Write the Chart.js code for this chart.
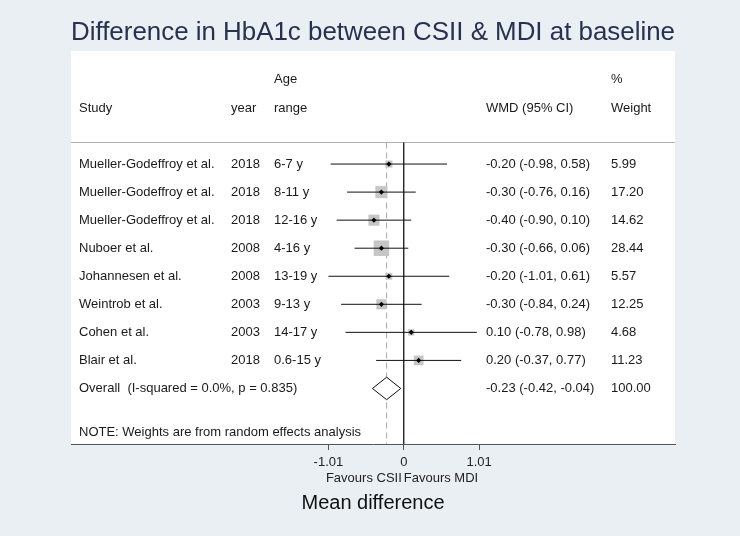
<!DOCTYPE html>
<html>
<head>
<meta charset="utf-8">
<title>Difference in HbA1c between CSII & MDI at baseline</title>
<script src="https://cdn.jsdelivr.net/npm/chart.js@4/dist/chart.umd.min.js"></script>
<style>
  html, body { margin: 0; padding: 0; background: #eaeff3; }
  canvas { display: block; }
</style>
</head>
<body>
<canvas id="forest" width="740" height="536"></canvas>
<script>
// study rows
const studies = ['Mueller-Godeffroy et al.', 'Mueller-Godeffroy et al.', 'Mueller-Godeffroy et al.',
  'Nuboer et al.', 'Johannesen et al.', 'Weintrob et al.', 'Cohen et al.', 'Blair et al.'];
const years = ['2018', '2018', '2018', '2008', '2008', '2003', '2003', '2018'];
const ageRanges = ['6-7 y', '8-11 y', '12-16 y', '4-16 y', '13-19 y', '9-13 y', '14-17 y', '0.6-15 y'];
const wmd = [-0.20, -0.30, -0.40, -0.30, -0.20, -0.30, 0.10, 0.20];
const ciLow = [-0.98, -0.76, -0.90, -0.66, -1.01, -0.84, -0.78, -0.37];
const ciHigh = [0.58, 0.16, 0.10, 0.06, 0.61, 0.24, 0.98, 0.77];
const weights = [5.99, 17.20, 14.62, 28.44, 5.57, 12.25, 4.68, 11.23];

// pooled estimate
const overallLabel = 'Overall  (I-squared = 0.0%, p = 0.835)';
const overallWmd = -0.23;
const overallLow = -0.42;
const overallHigh = -0.04;
const overallWeight = 100.00;

const tickValues = [-1.01, 0, 1.01];
const noteText = 'NOTE: Weights are from random effects analysis';

const textFont = '13px "Liberation Sans", Arial, Helvetica, sans-serif';
const overallRow = studies.length;
const headerLineRow = -0.77;
const bottomRow = 9.98;

const datasets = [];

// confidence intervals
studies.forEach((s, i) => {
  datasets.push({
    type: 'line',
    data: [{ x: ciLow[i], y: i }, { x: ciHigh[i], y: i }],
    borderColor: '#111',
    borderWidth: 1,
    pointRadius: 0,
    order: 3
  });
});

// weight boxes
datasets.push({
  type: 'scatter',
  data: wmd.map((v, i) => ({ x: v, y: i })),
  pointStyle: 'rect',
  pointRadius: weights.map(w => 2.9 * Math.sqrt(w) / Math.SQRT2),
  backgroundColor: '#c6c6c6',
  borderWidth: 0,
  order: 4
});

// point estimates
datasets.push({
  type: 'scatter',
  data: wmd.map((v, i) => ({ x: v, y: i })),
  pointStyle: 'rectRot',
  pointRadius: 2.6,
  backgroundColor: '#000',
  borderWidth: 0,
  order: 1
});

// overall diamond
datasets.push({
  type: 'line',
  data: [
    { x: overallLow, y: overallRow },
    { x: overallWmd, y: overallRow - 0.4 },
    { x: overallHigh, y: overallRow },
    { x: overallWmd, y: overallRow + 0.4 },
    { x: overallLow, y: overallRow }
  ],
  borderColor: '#111',
  backgroundColor: '#fff',
  fill: 'shape',
  borderWidth: 1,
  pointRadius: 0,
  tension: 0,
  order: 2
});

// line of no effect
datasets.push({
  type: 'line',
  data: [{ x: 0, y: headerLineRow }, { x: 0, y: bottomRow }],
  borderColor: '#000',
  borderWidth: 1.2,
  pointRadius: 0,
  order: 5
});

// overall effect reference line
datasets.push({
  type: 'line',
  data: [{ x: overallWmd, y: headerLineRow }, { x: overallWmd, y: bottomRow }],
  borderColor: '#a8a8a8',
  borderWidth: 1,
  borderDash: [6, 4],
  pointRadius: 0,
  order: 6
});

const fmt = v => v.toFixed(2);

const forestTable = {
  id: 'forestTable',
  beforeDraw(chart) {
    const { ctx, chartArea } = chart;
    ctx.save();
    ctx.fillStyle = '#fff';
    ctx.fillRect(chartArea.left, chartArea.top, chartArea.right - chartArea.left, chartArea.bottom - chartArea.top);
    // header rule
    const yS = chart.scales.y;
    const hy = Math.round(yS.getPixelForValue(headerLineRow)) + 0.5;
    ctx.strokeStyle = '#b0b0b0';
    ctx.lineWidth = 1;
    ctx.beginPath();
    ctx.moveTo(chartArea.left, hy);
    ctx.lineTo(chartArea.right, hy);
    ctx.stroke();
    ctx.restore();
  },
  afterDraw(chart) {
    const { ctx } = chart;
    const yS = chart.scales.y;
    const xS = chart.scales.x;
    const col = { study: 79, year: 231, age: 274, wmd: 486, weight: 611 };
    ctx.save();
    ctx.font = textFont;
    ctx.fillStyle = '#1a1a1a';
    ctx.textBaseline = 'middle';
    ctx.textAlign = 'left';
    const put = (t, x, row) => ctx.fillText(t, x, yS.getPixelForValue(row));

    put('Age', col.age, -3);
    put('%', col.weight, -3);
    put('Study', col.study, -2);
    put('year', col.year, -2);
    put('range', col.age, -2);
    put('WMD (95% CI)', col.wmd, -2);
    put('Weight', col.weight, -2);

    studies.forEach((s, i) => {
      put(s, col.study, i);
      put(years[i], col.year, i);
      put(ageRanges[i], col.age, i);
      put(fmt(wmd[i]) + ' (' + fmt(ciLow[i]) + ', ' + fmt(ciHigh[i]) + ')', col.wmd, i);
      put(fmt(weights[i]), col.weight, i);
    });
    put(overallLabel, col.study, overallRow);
    put(fmt(overallWmd) + ' (' + fmt(overallLow) + ', ' + fmt(overallHigh) + ')', col.wmd, overallRow);
    put(fmt(overallWeight), col.weight, overallRow);
    put(noteText, col.study, 9.55);

    // favours labels under the axis
    const x0 = xS.getPixelForValue(0);
    const fy = xS.top + 34;
    ctx.fillStyle = '#222';
    ctx.textAlign = 'right';
    ctx.fillText('Favours CSII', x0 - 2, fy);
    ctx.textAlign = 'left';
    ctx.fillText('Favours MDI', x0, fy);
    ctx.restore();
  }
};

new Chart(document.getElementById('forest'), {
  type: 'scatter',
  data: { datasets },
  options: {
    responsive: false,
    animation: false,
    layout: { padding: { left: 71, right: 65, top: 0, bottom: 12.4 } },
    plugins: {
      legend: { display: false },
      tooltip: { enabled: false },
      title: {
        display: true,
        text: 'Difference in HbA1c between CSII & MDI at baseline',
        color: '#283150',
        font: { family: '"Liberation Sans", Arial, Helvetica, sans-serif', size: 26, weight: 'normal' },
        padding: { top: 17.4, bottom: 2.4 }
      }
    },
    scales: {
      x: {
        type: 'linear',
        min: -4.461,
        max: 3.636,
        afterBuildTicks: scale => { scale.ticks = tickValues.map(v => ({ value: v })); },
        ticks: {
          callback: v => String(v),
          color: '#222',
          font: { family: '"Liberation Sans", Arial, Helvetica, sans-serif', size: 13 },
          padding: 5,
          maxRotation: 0,
          autoSkip: false
        },
        grid: { drawOnChartArea: false, drawTicks: true, tickLength: 6, color: '#555' },
        border: { display: true, color: '#555', width: 1 },
        title: {
          display: true,
          text: 'Mean difference',
          color: '#111',
          font: { family: '"Liberation Sans", Arial, Helvetica, sans-serif', size: 20 },
          padding: { top: 16, bottom: 8 }
        }
      },
      y: {
        type: 'linear',
        reverse: true,
        min: -4.03,
        max: bottomRow,
        display: false
      }
    }
  },
  plugins: [forestTable]
});
</script>
</body>
</html>
